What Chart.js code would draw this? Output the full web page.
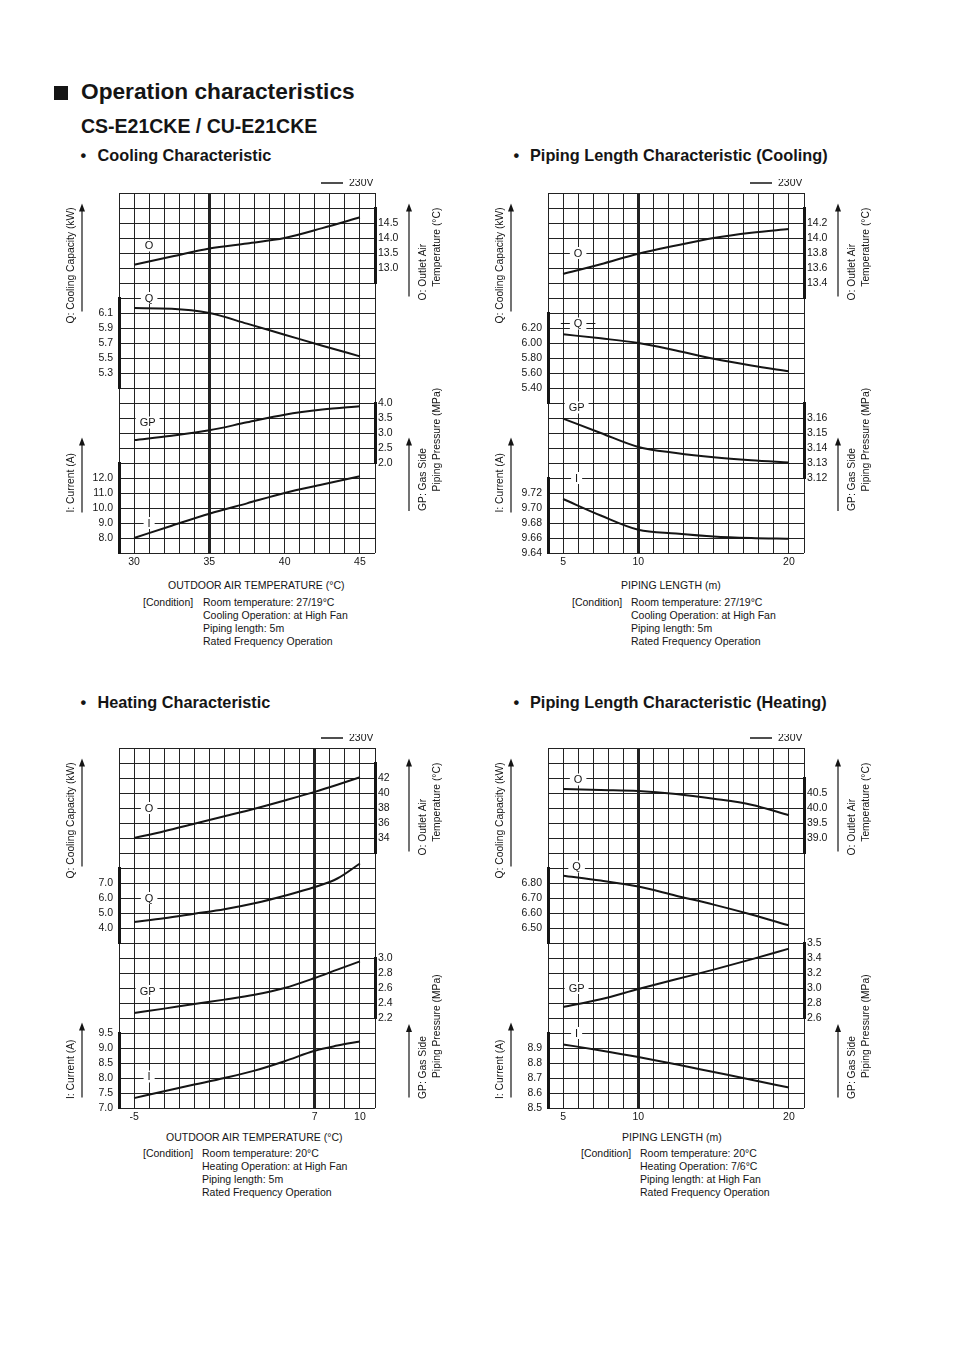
<!DOCTYPE html>
<html>
<head>
<meta charset="utf-8">
<script src="https://cdn.jsdelivr.net/npm/chart.js@4.4.0/dist/chart.umd.min.js"></script>
<style>
  body { margin: 0; background: #fff; width: 954px; height: 1350px; position: relative; overflow: hidden;
         font-family: "Liberation Sans", Arial, Helvetica, sans-serif; color: #151515; }
  .a { position: absolute; white-space: nowrap; }
  canvas { position: absolute; }
  .sq { position: absolute; left: 54px; top: 86px; width: 14px; height: 14px; background: #151515; }
  .h1 { font-size: 22.7px; font-weight: bold; line-height: 22px; }
  .h2 { font-size: 19.5px; font-weight: bold; line-height: 19px; }
  .h3 { font-size: 16.3px; font-weight: bold; line-height: 16px; }
  .sm { font-size: 10.5px; line-height: 13px; }
</style>
</head>
<body>
<div class="sq"></div>
<div class="a h1" style="left:81px;top:80px">Operation characteristics</div>
<div class="a h2" style="left:81px;top:117px">CS-E21CKE / CU-E21CKE</div>

<div class="a h3" style="left:80.5px;top:147px">•</div>
<div class="a h3" style="left:97.5px;top:147px">Cooling Characteristic</div>
<div class="a h3" style="left:513.5px;top:147px">•</div>
<div class="a h3" style="left:530px;top:147px">Piping Length Characteristic (Cooling)</div>
<div class="a h3" style="left:80.5px;top:694px">•</div>
<div class="a h3" style="left:97.5px;top:694px">Heating Characteristic</div>
<div class="a h3" style="left:513.5px;top:694px">•</div>
<div class="a h3" style="left:530px;top:694px">Piping Length Characteristic (Heating)</div>

<canvas id="coolChart" width="420" height="394" style="left:39px;top:179px"></canvas>
<canvas id="pipeCoolChart" width="420" height="394" style="left:468px;top:179px"></canvas>
<canvas id="heatChart" width="420" height="394" style="left:39px;top:734px"></canvas>
<canvas id="pipeHeatChart" width="420" height="394" style="left:468px;top:734px"></canvas>

<div class="a sm" style="left:168px;top:579px">OUTDOOR AIR TEMPERATURE (°C)</div>
<div class="a sm" style="left:143px;top:596px">[Condition]</div>
<div class="a sm" style="left:203px;top:596px">Room temperature: 27/19°C<br>Cooling Operation: at High Fan<br>Piping length: 5m<br>Rated Frequency Operation</div>

<div class="a sm" style="left:621px;top:579px">PIPING LENGTH (m)</div>
<div class="a sm" style="left:572px;top:596px">[Condition]</div>
<div class="a sm" style="left:631px;top:596px">Room temperature: 27/19°C<br>Cooling Operation: at High Fan<br>Piping length: 5m<br>Rated Frequency Operation</div>

<div class="a sm" style="left:166px;top:1131px">OUTDOOR AIR TEMPERATURE (°C)</div>
<div class="a sm" style="left:143px;top:1147px">[Condition]</div>
<div class="a sm" style="left:202px;top:1147px">Room temperature: 20°C<br>Heating Operation: at High Fan<br>Piping length: 5m<br>Rated Frequency Operation</div>

<div class="a sm" style="left:622px;top:1131px">PIPING LENGTH (m)</div>
<div class="a sm" style="left:581px;top:1147px">[Condition]</div>
<div class="a sm" style="left:640px;top:1147px">Room temperature: 20°C<br>Heating Operation: 7/6°C<br>Piping length: at High Fan<br>Rated Frequency Operation</div>

<script>
// ---- cooling characteristic (outdoor air temperature) ----
const coolX = [30, 32.5, 35, 37.5, 40, 42.5, 45];
const coolOutlet = [13.11, 13.38, 13.65, 13.82, 14.0, 14.33, 14.69];
const coolCapacity = [6.166, 6.158, 6.10, 5.958, 5.811, 5.664, 5.522];
const coolPressure = [2.765, 2.91, 3.09, 3.355, 3.61, 3.78, 3.89];
const coolCurrent = [8.0, 8.82, 9.62, 10.31, 11.0, 11.56, 12.11];
const coolXTicks = [30, 35, 40, 45];
const coolOutletTicks = ['14.5', '14.0', '13.5', '13.0'];
const coolCapacityTicks = ['6.1', '5.9', '5.7', '5.5', '5.3'];
const coolPressureTicks = ['4.0', '3.5', '3.0', '2.5', '2.0'];
const coolCurrentTicks = ['12.0', '11.0', '10.0', '9.0', '8.0'];

// ---- piping length characteristic (cooling) ----
const pipeCoolX = [5, 7.5, 10, 12.5, 15, 17.5, 20];
const pipeCoolOutlet = [13.52, 13.65, 13.79, 13.90, 14.0, 14.07, 14.12];
const pipeCoolCapacity = [6.116, 6.062, 6.0, 5.90, 5.79, 5.70, 5.622];
const pipeCoolPressure = [3.1596, 3.150, 3.1407, 3.1367, 3.1338, 3.1318, 3.1304];
const pipeCoolCurrent = [9.712, 9.690, 9.671, 9.666, 9.662, 9.660, 9.659];
const pipeXTicks = [5, 10, 20];
const pipeCoolOutletTicks = ['14.2', '14.0', '13.8', '13.6', '13.4'];
const pipeCoolCapacityTicks = ['6.20', '6.00', '5.80', '5.60', '5.40'];
const pipeCoolPressureTicks = ['3.16', '3.15', '3.14', '3.13', '3.12'];
const pipeCoolCurrentTicks = ['9.72', '9.70', '9.68', '9.66', '9.64'];

// ---- heating characteristic (outdoor air temperature) ----
const heatX = [-5, -3, -1, 1, 3, 5, 7, 8.5, 10];
const heatOutlet = [34.0, 34.9, 35.9, 36.9, 37.9, 39.0, 40.15, 41.1, 42.1];
const heatCapacity = [4.4, 4.65, 4.95, 5.25, 5.65, 6.15, 6.73, 7.3, 8.3];
const heatPressure = [2.267, 2.325, 2.387, 2.445, 2.51, 2.60, 2.733, 2.845, 2.955];
const heatCurrent = [7.33, 7.56, 7.78, 8.0, 8.245, 8.56, 8.91, 9.08, 9.22];
const heatXTicks = [-5, 7, 10];
const heatOutletTicks = ['42', '40', '38', '36', '34'];
const heatCapacityTicks = ['7.0', '6.0', '5.0', '4.0'];
const heatPressureTicks = ['3.0', '2.8', '2.6', '2.4', '2.2'];
const heatCurrentTicks = ['9.5', '9.0', '8.5', '8.0', '7.5', '7.0'];

// ---- piping length characteristic (heating) ----
const pipeHeatX = [5, 7.5, 10, 12.5, 15, 17.5, 20];
const pipeHeatOutlet = [40.63, 40.60, 40.57, 40.47, 40.31, 40.11, 39.76];
const pipeHeatCapacity = [6.849, 6.816, 6.776, 6.715, 6.656, 6.59, 6.518];
const pipeHeatPressure = [2.747, 2.849, 2.987, 3.116, 3.245, 3.382, 3.525];
const pipeHeatCurrent = [8.924, 8.884, 8.84, 8.791, 8.74, 8.689, 8.636];
const pipeHeatOutletTicks = ['40.5', '40.0', '39.5', '39.0'];
const pipeHeatCapacityTicks = ['6.80', '6.70', '6.60', '6.50'];
const pipeHeatPressureTicks = ['3.5', '3.4', '3.2', '3.0', '2.8', '2.6'];
const pipeHeatCurrentTicks = ['8.9', '8.8', '8.7', '8.6', '8.5'];

const FONT = '"Liberation Sans", Arial, Helvetica, sans-serif';
const INK = '#151515';
const GRID = '#222';
Chart.defaults.font.family = FONT;
Chart.defaults.color = INK;

// label text, x value, grid row, draw side dashes
const coolNames = [['O', 31, 3.5], ['Q', 31, 7], ['GP', 30.9, 15.3], ['I', 31, 22]];
const pipeCoolNames = [['O', 6, 4], ['Q', 6, 8.7, true], ['GP', 5.9, 14.3], ['I', 5.9, 19]];
const heatNames = [['O', -4, 4], ['Q', -4, 10], ['GP', -4.1, 16.2], ['I', -4, 21.9]];
const pipeHeatNames = [['O', 6, 2.1], ['Q', 5.9, 7.9], ['GP', 5.9, 16], ['I', 5.9, 19]];

const coolTitles = {
  left: [{ text: 'Q: Cooling Capacity (kW)', row: 8.7, arrow: [7.9, 0.7] },
         { text: 'I: Current (A)', row: 21.3, arrow: [21.3, 16.3] }],
  right: [{ lines: ['O: Outlet Air', 'Temperature (°C)'], rows: [7.16, 6.25], arrow: [6.9, 0.7] },
          { lines: ['GP: Gas Side', 'Piping Pressure (MPa)'], rows: [21.2, 19.9], arrow: [21.2, 16.3] }]
};
const heatTitles = {
  left: [{ text: 'Q: Cooling Capacity (kW)', row: 8.7, arrow: [7.9, 0.7] },
         { text: 'I: Current (A)', row: 23.4, arrow: [23.3, 18.3] }],
  right: [{ lines: ['O: Outlet Air', 'Temperature (°C)'], rows: [7.16, 6.25], arrow: [6.9, 0.7] },
          { lines: ['GP: Gas Side', 'Piping Pressure (MPa)'], rows: [23.4, 22.0], arrow: [23.3, 18.4] }]
};

function vText(ctx, text, x, y) {
  ctx.save();
  ctx.translate(x, y);
  ctx.rotate(-Math.PI / 2);
  ctx.textAlign = 'left';
  ctx.textBaseline = 'middle';
  ctx.fillText(text, 0, 0);
  ctx.restore();
}

function arrow(ctx, x, yBottom, yTop) {
  ctx.lineWidth = 1.2;
  ctx.beginPath();
  ctx.moveTo(x, yBottom);
  ctx.lineTo(x, yTop + 6);
  ctx.stroke();
  ctx.beginPath();
  ctx.moveTo(x, yTop);
  ctx.lineTo(x - 3, yTop + 8);
  ctx.lineTo(x + 3, yTop + 8);
  ctx.closePath();
  ctx.fill();
}

function decor(p) {
  return {
    id: 'decor',
    afterDraw(chart) {
      const { ctx, chartArea: a, scales } = chart;
      const rowY = r => scales.rows.getPixelForValue(r);
      ctx.save();
      ctx.fillStyle = INK;
      ctx.strokeStyle = INK;

      // 230V key
      ctx.lineWidth = 1.5;
      ctx.beginPath();
      ctx.moveTo(a.right - 54, a.top - 10);
      ctx.lineTo(a.right - 32, a.top - 10);
      ctx.stroke();
      ctx.font = '10.5px ' + FONT;
      ctx.textAlign = 'left';
      ctx.textBaseline = 'middle';
      ctx.fillText('230V', a.right - 26, a.top - 10);

      // curve names
      ctx.font = '11px ' + FONT;
      p.names.forEach(([t, xv, r, dash]) => {
        const x = scales.x.getPixelForValue(xv), y = rowY(r);
        const w = ctx.measureText(t).width + 8;
        if (dash) {
          ctx.lineWidth = 1;
          ctx.beginPath();
          ctx.moveTo(x - w / 2 - 9, y);
          ctx.lineTo(x + w / 2 + 9, y);
          ctx.stroke();
        }
        ctx.fillStyle = '#fff';
        ctx.fillRect(x - w / 2, y - 6, w, 12);
        ctx.fillStyle = INK;
        ctx.textAlign = 'center';
        ctx.fillText(t, x, y + 0.5);
      });

      // axis titles with arrows
      ctx.font = '10.3px ' + FONT;
      p.titles.left.forEach(t => {
        vText(ctx, t.text, a.left - 48, rowY(t.row));
        arrow(ctx, a.left - 37, rowY(t.arrow[0]), rowY(t.arrow[1]));
      });
      p.titles.right.forEach(t => {
        t.lines.forEach((s, i) => vText(ctx, s, a.right + 48 + 14 * i, rowY(t.rows[i])));
        arrow(ctx, a.right + 34, rowY(t.arrow[0]), rowY(t.arrow[1]));
      });
      ctx.restore();
    }
  };
}

// one column of stacked y axes; a segment with labels is a value axis, else a spacer
function sideAxes(position, segments) {
  const axes = {};
  segments.forEach((seg, i) => {
    const id = seg.id || (position + 'Gap' + i);
    const base = {
      type: 'linear', position, stack: 'side', stackWeight: seg.rows[1] - seg.rows[0],
      weight: position === 'left' ? 100 - i : i + 1,
      grid: { display: false, drawTicks: false },
      afterFit: s => { s.width = 40; }
    };
    if (!seg.labels) {
      axes[id] = Object.assign(base, { min: 0, max: 1, ticks: { display: false }, border: { display: false } });
      return;
    }
    const span = seg.rows[1] - seg.rows[0];
    const first = seg.first !== undefined ? seg.first : parseFloat(seg.labels[0]);
    const max = first + seg.step * (seg.firstRow - seg.rows[0]);
    const min = first - seg.step * (seg.rows[1] - seg.firstRow);
    axes[id] = Object.assign(base, {
      min, max,
      border: { display: true, width: 3, color: INK },
      // one tick per grid row, top to bottom
      afterBuildTicks: s => {
        s.ticks = [];
        for (let r = 0; r <= span; r++) s.ticks.push({ value: max - seg.step * r });
      },
      ticks: {
        autoSkip: false, padding: position === 'left' ? 6 : 3,
        font: { size: 10.5 }, color: INK,
        callback: (v, i) => {
          const k = i - (seg.firstRow - seg.rows[0]);
          return k >= 0 && k < seg.labels.length ? seg.labels[k] : '';
        }
      }
    });
  });
  return axes;
}

function buildChart(p) {
  const line = (vals, yAxisID) => ({
    data: p.xs.map((x, i) => ({ x, y: vals[i] })),
    yAxisID, borderColor: INK, borderWidth: 2, pointRadius: 0,
    cubicInterpolationMode: 'monotone', fill: false, clip: false
  });
  const scales = Object.assign({
    x: {
      type: 'linear', min: p.xMin, max: p.xMax,
      ticks: {
        stepSize: 1, autoSkip: false, maxRotation: 0, padding: 3, font: { size: 10.5 }, color: INK,
        callback: v => p.xTicks.includes(v) ? String(v) : ''
      },
      grid: { drawTicks: false, color: GRID, lineWidth: c => (c.tick && c.tick.value === p.thickX) ? 3 : 1 },
      border: { display: false },
      afterFit: s => { s.height = 20; }
    },
    rows: {
      type: 'linear', position: 'left', reverse: true, min: 0, max: 24,
      ticks: { display: false, stepSize: 1, autoSkip: false },
      grid: { color: GRID, lineWidth: 1, drawTicks: false },
      border: { display: false },
      afterFit: s => { s.width = 0; }
    }
  }, sideAxes('left', p.left), sideAxes('right', p.right));

  new Chart(document.getElementById(p.canvas), {
    type: 'line',
    data: {
      datasets: [
        line(p.outlet, 'yO'), line(p.capacity, 'yQ'), line(p.pressure, 'yGP'), line(p.current, 'yI')
      ]
    },
    options: {
      responsive: false, animation: false, events: [],
      layout: { autoPadding: false, padding: { left: 40, right: 44, top: 14, bottom: 0 } },
      plugins: { legend: { display: false }, tooltip: { enabled: false } },
      scales
    },
    plugins: [decor(p)]
  });
}

buildChart({
  canvas: 'coolChart', xs: coolX, outlet: coolOutlet, capacity: coolCapacity, pressure: coolPressure, current: coolCurrent,
  xMin: 29, xMax: 46, thickX: 35, xTicks: coolXTicks, names: coolNames, titles: coolTitles,
  left: [{ rows: [0, 7] },
         { id: 'yQ', rows: [7, 13], labels: coolCapacityTicks, step: 0.2, firstRow: 8 },
         { rows: [13, 18] },
         { id: 'yI', rows: [18, 24], labels: coolCurrentTicks, step: 1, firstRow: 19 }],
  right: [{ rows: [0, 1] },
          { id: 'yO', rows: [1, 6], labels: coolOutletTicks, step: 0.5, firstRow: 2 },
          { rows: [6, 14] },
          { id: 'yGP', rows: [14, 18], labels: coolPressureTicks, step: 0.5, firstRow: 14 },
          { rows: [18, 24] }]
});

buildChart({
  canvas: 'pipeCoolChart', xs: pipeCoolX, outlet: pipeCoolOutlet, capacity: pipeCoolCapacity, pressure: pipeCoolPressure, current: pipeCoolCurrent,
  xMin: 4, xMax: 21, thickX: 10, xTicks: pipeXTicks, names: pipeCoolNames, titles: coolTitles,
  left: [{ rows: [0, 8] },
         { id: 'yQ', rows: [8, 14], labels: pipeCoolCapacityTicks, step: 0.2, firstRow: 9 },
         { rows: [14, 19] },
         { id: 'yI', rows: [19, 24], labels: pipeCoolCurrentTicks, step: 0.02, firstRow: 20 }],
  right: [{ rows: [0, 1] },
          { id: 'yO', rows: [1, 7], labels: pipeCoolOutletTicks, step: 0.2, firstRow: 2 },
          { rows: [7, 14] },
          { id: 'yGP', rows: [14, 19], labels: pipeCoolPressureTicks, step: 0.01, firstRow: 15 },
          { rows: [19, 24] }]
});

buildChart({
  canvas: 'heatChart', xs: heatX, outlet: heatOutlet, capacity: heatCapacity, pressure: heatPressure, current: heatCurrent,
  xMin: -6, xMax: 11, thickX: 7, xTicks: heatXTicks, names: heatNames, titles: heatTitles,
  left: [{ rows: [0, 8] },
         { id: 'yQ', rows: [8, 13], labels: heatCapacityTicks, step: 1, firstRow: 9 },
         { rows: [13, 19] },
         { id: 'yI', rows: [19, 24], labels: heatCurrentTicks, step: 0.5, firstRow: 19 }],
  right: [{ rows: [0, 1] },
          { id: 'yO', rows: [1, 7], labels: heatOutletTicks, step: 2, firstRow: 2 },
          { rows: [7, 14] },
          { id: 'yGP', rows: [14, 18], labels: heatPressureTicks, step: 0.2, firstRow: 14 },
          { rows: [18, 24] }]
});

buildChart({
  canvas: 'pipeHeatChart', xs: pipeHeatX, outlet: pipeHeatOutlet, capacity: pipeHeatCapacity, pressure: pipeHeatPressure, current: pipeHeatCurrent,
  xMin: 4, xMax: 21, thickX: 10, xTicks: pipeXTicks, names: pipeHeatNames, titles: heatTitles,
  left: [{ rows: [0, 8] },
         { id: 'yQ', rows: [8, 13], labels: pipeHeatCapacityTicks, step: 0.1, firstRow: 9 },
         { rows: [13, 19] },
         { id: 'yI', rows: [19, 24], labels: pipeHeatCurrentTicks, step: 0.1, firstRow: 20 }],
  right: [{ rows: [0, 2] },
          { id: 'yO', rows: [2, 7], labels: pipeHeatOutletTicks, step: 0.5, firstRow: 3 },
          { rows: [7, 13] },
          { id: 'yGP', rows: [13, 18], labels: pipeHeatPressureTicks, step: 0.2, first: 3.6, firstRow: 13 },
          { rows: [18, 24] }]
});
</script>
</body>
</html>
